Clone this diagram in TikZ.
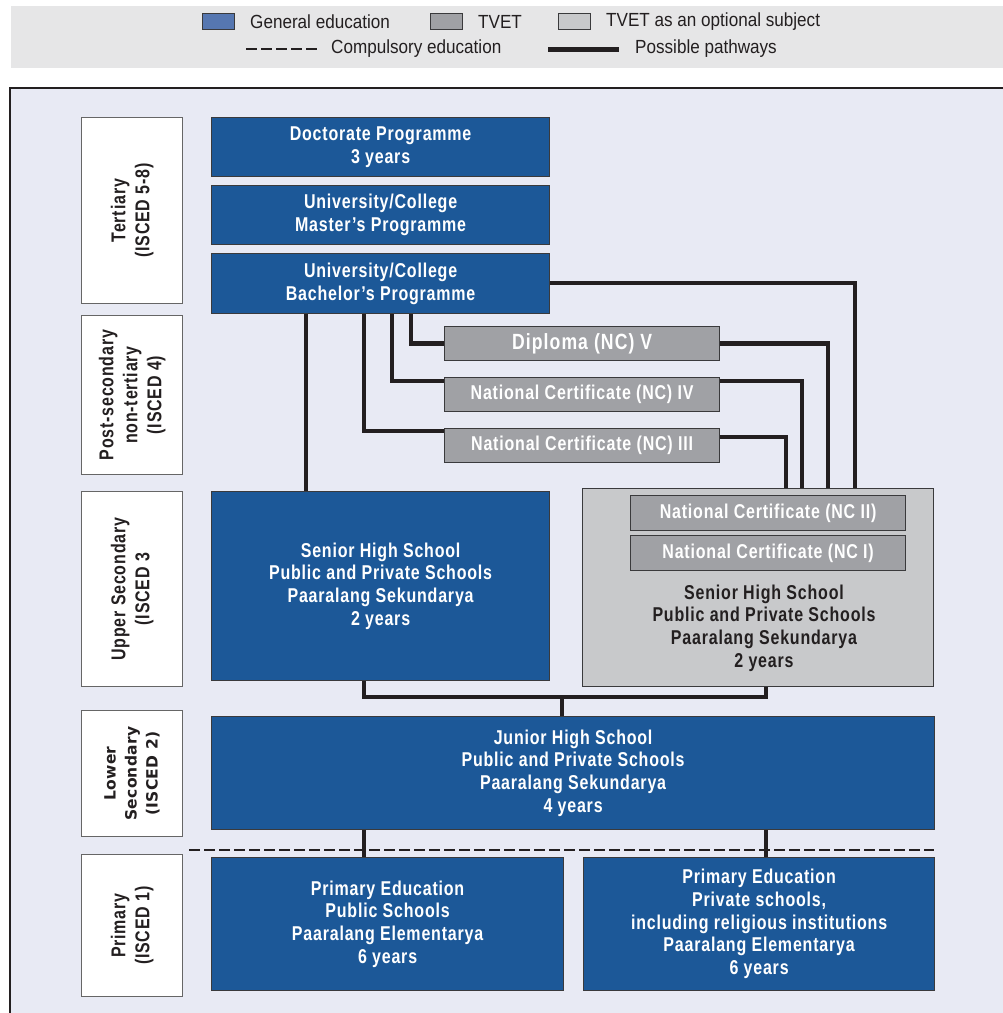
\documentclass[tikz,border=0pt]{standalone}
\usepackage{fontspec}
\setmainfont{Liberation Sans}
\newfontfamily\condfont{Liberation Sans}[FakeStretch=0.8,LetterSpace=4]
\newfontfamily\dipfont{Liberation Sans}[FakeStretch=0.8,LetterSpace=5]
\newfontfamily\legfont{Liberation Sans}[FakeStretch=0.9]
\newfontfamily\lowfont{DejaVu Sans}[LetterSpace=2]
\definecolor{genblue}{HTML}{1C5898}
\definecolor{legblue}{HTML}{5677B1}
\definecolor{tvetgray}{HTML}{A0A1A5}
\definecolor{optgray}{HTML}{C8C9CB}
\definecolor{framebg}{HTML}{E8EAF4}
\definecolor{legbg}{HTML}{E6E6E7}
\definecolor{pathcol}{HTML}{231F20}
\definecolor{boxline}{HTML}{3A3A3C}
\newcommand\mainbf{\condfont\bfseries\fontsize{20}{22.7}\selectfont}
\newcommand\dipbf{\dipfont\bfseries\fontsize{22}{24}\selectfont}
\newcommand\labbf{\condfont\bfseries\fontsize{20}{24}\selectfont}
\newcommand\lowbf{\lowfont\bfseries\fontsize{15.5}{21}\selectfont}
\newcommand\legtxt{\legfont\fontsize{19}{20}\selectfont}
\begin{document}
\begin{tikzpicture}[x=1pt,y=-1pt,
  box/.style={draw=boxline, line width=1.2pt, inner sep=0pt, anchor=north west, align=center},
  genbox/.style={box, fill=genblue, text=white, font=\mainbf},
  tvetbox/.style={box, fill=tvetgray, text=white, font=\mainbf},
  optbox/.style={box, fill=optgray},
  levelbox/.style={box, fill=white, draw=gray!80!black},
  leveltxt/.style={rotate=90, align=center, font=\labbf, text=pathcol, inner sep=0pt},
  pathway/.style={draw=pathcol, line width=4.5pt},
  compulsory/.style={draw=pathcol, line width=2.6pt, dash pattern=on 11pt off 4pt},
  swatch/.style={draw=boxline, line width=1pt, minimum width=32, minimum height=16, inner sep=0pt, anchor=north west},
  legtext/.style={anchor=west, inner sep=0pt, font=\legtxt, text=pathcol},
]
\useasboundingbox (0,0) rectangle (1003,1013);
\clip (0,0) rectangle (1003,1013);
\fill[white] (0,0) rectangle (1003,1013);
% legend band
\fill[legbg] (11,6) rectangle (1003,68);
\node[swatch, fill=legblue] (sw1) at (202,13) {};
\node[legtext] (lt1) at (250,22) {General education};
\node[swatch, fill=tvetgray] (sw2) at (430,13) {};
\node[legtext] (lt2) at (478,22) {TVET};
\node[swatch, fill=optgray] (sw3) at (558,13) {};
\node[legtext] (lt3) at (606,22) {TVET as an optional subject};
\coordinate (d1) at (246,49);
\coordinate (d2) at (318,49);
\draw[compulsory] (d1) -- (d2);
\node[legtext] (lt4) at (331,49) {Compulsory education};
\coordinate (p1) at (548,49);
\coordinate (p2) at (619,49);
\draw[pathway, line width=5pt] (p1) -- (p2);
\node[legtext] (lt5) at (635,49) {Possible pathways};
% frame
\draw[fill=framebg, draw=pathcol, line width=2.2pt] (10,88) rectangle (1030,1040);
% level boxes
\node[levelbox, minimum width=101, minimum height=186] (lt) at (81,117) {};
\node[leveltxt] (ltx) at (lt.center) {Tertiary\\(ISCED 5-8)};
\node[levelbox, minimum width=101, minimum height=159] (lp) at (81,315) {};
\node[leveltxt] (lpx) at (lp.center) {Post-secondary\\non-tertiary\\(ISCED 4)};
\node[levelbox, minimum width=101, minimum height=195] (lu) at (81,491) {};
\node[leveltxt] (lux) at (lu.center) {Upper Secondary\\(ISCED 3};
\node[levelbox, minimum width=101, minimum height=126] (ll) at (81,710) {};
\node[leveltxt, font=\lowbf] (llx) at (ll.center) {Lower\\Secondary\\(ISCED 2)};
\node[levelbox, minimum width=101, minimum height=142] (lpr) at (81,854) {};
\node[leveltxt] (lprx) at (lpr.center) {Primary\\(ISCED 1)};
% general education boxes
\node[genbox, minimum width=338, minimum height=59] (doc) at (211,117) {Doctorate Programme\\3 years};
\node[genbox, minimum width=338, minimum height=59] (mas) at (211,185) {University/College\\Master’s Programme};
\node[genbox, minimum width=338, minimum height=60] (bach) at (211,253) {University/College\\Bachelor’s Programme};
\node[genbox, minimum width=338, minimum height=189] (shg) at (211,491) {Senior High School\\Public and Private Schools\\Paaralang Sekundarya\\2 years};
\node[genbox, minimum width=723, minimum height=113] (jh) at (211,716) {Junior High School\\Public and Private Schools\\Paaralang Sekundarya\\4 years};
\node[genbox, minimum width=352, minimum height=133] (pp) at (211,857) {Primary Education\\Public Schools\\Paaralang Elementarya\\6 years};
\node[genbox, minimum width=351, minimum height=133] (ppr) at (583,857) {Primary Education\\Private schools,\\including religious institutions\\Paaralang Elementarya\\6 years};
% TVET boxes
\node[tvetbox, minimum width=275, minimum height=34, font=\dipbf] (dip) at (444,326) {Diploma (NC) V};
\node[tvetbox, minimum width=275, minimum height=34] (nc4) at (444,377) {National Certificate (NC) IV};
\node[tvetbox, minimum width=275, minimum height=34] (nc3) at (444,428) {National Certificate (NC) III};
\node[optbox, minimum width=351, minimum height=198] (shv) at (582,488) {};
\node[tvetbox, minimum width=275, minimum height=35] (nc2) at (630,495) {National Certificate (NC II)};
\node[tvetbox, minimum width=275, minimum height=35] (nc1) at (630,535) {National Certificate (NC I)};
\node[align=center, font=\mainbf, text=pathcol, inner sep=0pt] (shvt) at (764,628) {Senior High School\\Public and Private Schools\\Paaralang Sekundarya\\2 years};
% compulsory line
\coordinate (c1) at (189,850);
\coordinate (c2) at (934,850);
\draw[compulsory] (c1) -- (c2);
% pathways
\draw[pathway] ([xshift=95pt]bach.south west) -- ([xshift=95pt]shg.north west);
\draw[pathway] ([xshift=153pt]bach.south west) |- ([yshift=-3pt]nc3.north west);
\draw[pathway] ([xshift=181pt]bach.south west) |- ([yshift=-4pt]nc4.north west);
\draw[pathway] ([xshift=200pt]bach.south west) |- (dip.west);
\draw[pathway] (dip.east) -| ([xshift=246pt]shv.north west);
\draw[pathway] ([yshift=-4pt]nc4.north east) -| ([xshift=220pt]shv.north west);
\draw[pathway] ([yshift=-9pt]nc3.north east) -| ([xshift=204pt]shv.north west);
\draw[pathway] ([yshift=-30pt]bach.north east) -| ([xshift=273pt]shv.north west);
\draw[pathway] ([xshift=153pt]shg.south west) -- ++(0,16) -| ([xshift=184pt]shv.south west);
\coordinate (jn) at (562,696);
\draw[pathway] (jn) -- (jn |- jh.north);
\draw[pathway] ([xshift=153pt]jh.south west) -- ([xshift=153pt]pp.north west);
\draw[pathway] ([xshift=555pt]jh.south west) -- ([xshift=183pt]ppr.north west);
\end{tikzpicture}
\end{document}
